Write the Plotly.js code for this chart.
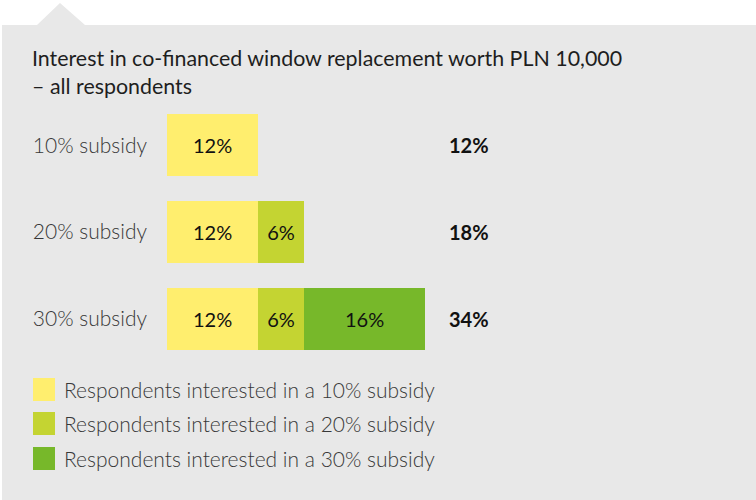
<!DOCTYPE html>
<html>
<head>
<meta charset="utf-8">
<script src="https://cdn.plot.ly/plotly-3.0.1.min.js"></script>
<style>
html,body{margin:0;padding:0;background:#ffffff;}
#chart{width:756px;height:500px;}
</style>
</head>
<body>
<div id="chart"></div>
<script>
// ---- data ----
var categories = ["10% subsidy", "20% subsidy", "30% subsidy"];
var seriesNames = [
  "Respondents interested in a 10% subsidy",
  "Respondents interested in a 20% subsidy",
  "Respondents interested in a 30% subsidy"
];
var interested10 = [12, 12, 12];
var interested20 = [null, 6, 6];
var interested30 = [null, null, 16];
var seriesColors = ["#FFEE6E", "#C4D432", "#77B82A"];
var titleText = "Interest in co-financed window replacement worth PLN 10,000<br>– all respondents";

// ---- layout geometry (pixels) ----
var W = 756, H = 500;
var mL = 167, mR = 209, mT = 102, mB = 138;
var plotW = W - mL - mR, plotH = H - mT - mB;
function px2x(px){ return (px - mL) / plotW; }
function py2y(py){ return 1 - (py - mT) / plotH; }

var seriesValues = [interested10, interested20, interested30];
var traces = seriesValues.map(function(vals, i){
  return {
    type: "bar",
    orientation: "h",
    name: seriesNames[i],
    y: categories,
    x: vals,
    marker: {color: seriesColors[i], line: {width: 0}},
    texttemplate: "%{x}%",
    textposition: "inside",
    insidetextanchor: "middle",
    textangle: 0,
    constraintext: "none",
    textfont: {family: "Lato", size: 20, color: "#111111"},
    hoverinfo: "skip",
    showlegend: false
  };
});

var totals = categories.map(function(c, k){
  var s = 0;
  seriesValues.forEach(function(v){ if (v[k] != null) s += v[k]; });
  return s;
});

// background panel with notch
var pts = [[2,25],[37,25],[60,3],[85,25],[W,25],[W,H],[2,H]];
var path = pts.map(function(p, i){
  return (i === 0 ? "M" : "L") + px2x(p[0]).toFixed(5) + "," + py2y(p[1]).toFixed(5);
}).join(" ") + " Z";

var shapes = [{
  type: "path", xref: "paper", yref: "paper", path: path,
  fillcolor: "#E8E8E8", line: {width: 0}, layer: "below"
}];

var annotations = [];
// totals
categories.forEach(function(c, k){
  annotations.push({
    xref: "paper", yref: "y", x: px2x(447), y: c,
    xanchor: "left", yanchor: "middle", showarrow: false,
    text: "<b>" + totals[k] + "%</b>",
    font: {family: "Lato", size: 20, color: "#111111"}
  });
});
// manual legend
var legTop = [378, 412, 447];
seriesNames.forEach(function(n, i){
  shapes.push({
    type: "rect", xref: "paper", yref: "paper",
    x0: px2x(33), x1: px2x(55), y0: py2y(legTop[i]), y1: py2y(legTop[i] + 23),
    fillcolor: seriesColors[i], line: {width: 0}, layer: "above"
  });
  annotations.push({
    xref: "paper", yref: "paper", x: px2x(62), y: py2y(legTop[i] + 11.5),
    xanchor: "left", yanchor: "middle", showarrow: false,
    text: n, font: {family: "Lato", size: 21, color: "#383838", weight: 300}
  });
});

var layout = {
  width: W, height: H,
  margin: {l: mL, r: mR, t: mT, b: mB, pad: 0},
  paper_bgcolor: "#ffffff",
  plot_bgcolor: "rgba(0,0,0,0)",
  barmode: "stack",
  bargap: 0.285,
  showlegend: false,
  title: {
    text: titleText,
    font: {family: "Lato", size: 21.4, color: "#1e1e1e"},
    x: 32 / W, xanchor: "left", xref: "container",
    y: 1 - 66 / H, yanchor: "top", yref: "container",
    automargin: false
  },
  xaxis: {range: [0, 50], visible: false, fixedrange: true},
  yaxis: {
    type: "category",
    categoryorder: "array", categoryarray: categories,
    autorange: "reversed",
    showgrid: false, zeroline: false, showline: false,
    ticks: "", ticklabelstandoff: 19,
    tickfont: {family: "Lato", size: 21, color: "#383838", weight: 300},
    fixedrange: true
  },
  shapes: shapes,
  annotations: annotations,
  font: {family: "Lato"}
};

Plotly.newPlot("chart", traces, layout, {displayModeBar: false, staticPlot: true});
</script>
</body>
</html>
